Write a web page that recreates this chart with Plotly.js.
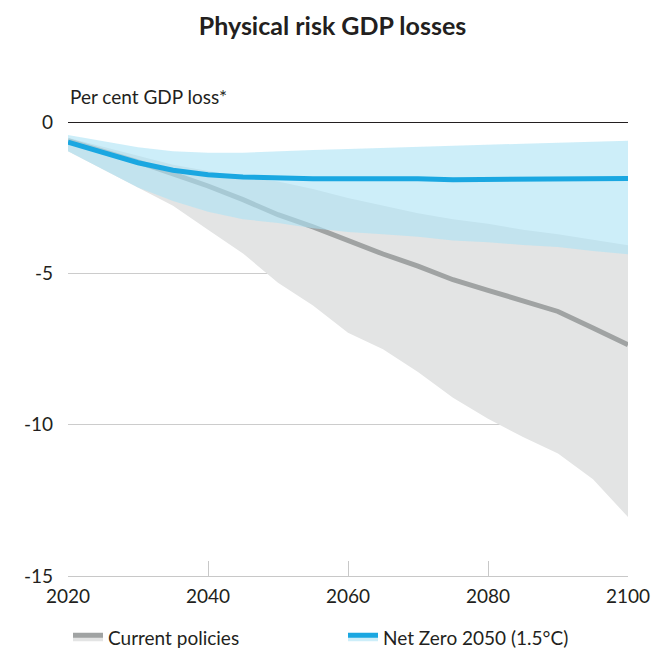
<!DOCTYPE html>
<html>
<head>
<meta charset="utf-8">
<script src="https://cdn.plot.ly/plotly-3.0.1.min.js"></script>
<style>
html,body{margin:0;padding:0;background:#fff;}
#chart{width:652px;height:649px;}
</style>
</head>
<body>
<div id="chart"></div>
<script>
// Data (per cent GDP loss)
const years = [2020,2025,2030,2035,2040,2045,2050,2055,2060,2065,2070,2075,2080,2085,2090,2095,2100];

const currentCentral = [-0.6,-0.95,-1.3,-1.7,-2.1,-2.55,-3.05,-3.45,-3.9,-4.35,-4.75,-5.2,-5.55,-5.9,-6.25,-6.8,-7.35];
const currentUpper   = [-0.5,-0.8,-1.1,-1.4,-1.6,-1.8,-1.95,-2.2,-2.5,-2.75,-3.0,-3.2,-3.35,-3.55,-3.7,-3.88,-4.06];
const currentLower   = [-0.95,-1.55,-2.15,-2.75,-3.55,-4.33,-5.3,-6.05,-6.95,-7.5,-8.25,-9.1,-9.8,-10.4,-10.95,-11.8,-13.05];

const netZeroCentral = [-0.65,-1.0,-1.33,-1.58,-1.73,-1.8,-1.84,-1.86,-1.86,-1.85,-1.86,-1.89,-1.88,-1.86,-1.85,-1.85,-1.85];
const netZeroUpper   = [-0.41,-0.62,-0.82,-0.95,-1.0,-1.0,-0.95,-0.91,-0.88,-0.84,-0.8,-0.76,-0.73,-0.7,-0.67,-0.63,-0.6];
const netZeroLower   = [-0.95,-1.55,-2.15,-2.6,-2.95,-3.2,-3.32,-3.5,-3.62,-3.7,-3.78,-3.9,-3.96,-4.05,-4.12,-4.25,-4.36];

const seriesNames = ['Current policies', 'Net Zero 2050 (1.5°C)'];
const yTicks = [0,-5,-10,-15];
const xTicks = [2020,2040,2060,2080,2100];

const FONT = 'Lato, "Open Sans", sans-serif';
const TXT = '#231f20';
const grayBand = '#e3e4e4';
const grayLine = '#a0a3a3';
const blueBand = 'rgba(172,227,245,0.6)';
const blueLine = '#1aa7e1';

const traces = [
  {x: years, y: currentUpper, mode:'lines', line:{width:0, color:grayBand}, showlegend:false, hoverinfo:'skip'},
  {x: years, y: currentCentral, mode:'lines', name: seriesNames[0], fill:'tonexty', fillcolor:grayBand,
   line:{width:5, color:grayLine}},
  {x: years, y: currentLower, mode:'lines', fill:'tonexty', fillcolor:grayBand, line:{width:0, color:grayBand}, showlegend:false, hoverinfo:'skip'},
  {x: years, y: netZeroUpper, mode:'lines', line:{width:0, color:blueBand}, showlegend:false, hoverinfo:'skip'},
  {x: years, y: netZeroCentral, mode:'lines', name: seriesNames[1], fill:'tonexty', fillcolor:blueBand,
   line:{width:5, color:blueLine}},
  {x: years, y: netZeroLower, mode:'lines', fill:'tonexty', fillcolor:blueBand, line:{width:0, color:blueBand}, showlegend:false, hoverinfo:'skip'}
];

const layout = {
  width:652, height:649,
  margin:{l:68, r:24, t:121, b:73, autoexpand:false},
  paper_bgcolor:'#fff', plot_bgcolor:'#fff',
  font:{family:FONT, color:TXT, size:19},
  title:{text:'<b>Physical risk GDP losses</b>', font:{family:FONT, size:25, color:TXT, weight:900},
         x:0.51, xref:'container', xanchor:'center', y:1-26/649, yref:'container', yanchor:'middle'},
  xaxis:{range:[2020,2100], tickvals:xTicks, ticktext:xTicks.map(String),
         showgrid:false, zeroline:false, showline:true, linecolor:'#c8c8c8', linewidth:1,
         ticks:'inside', ticklen:15, tickcolor:'#c8c8c8', tickwidth:1, ticklabelstandoff:3,
         tickfont:{family:FONT, size:19, color:TXT}, fixedrange:true},
  yaxis:{range:[-15,0.05], tickvals:yTicks, ticktext:yTicks.map(String),
         showgrid:true, gridcolor:'#cccccc', gridwidth:1,
         zeroline:true, zerolinecolor:'#231f20', zerolinewidth:1.5,
         showline:false, ticks:'', ticklabelstandoff:14,
         tickfont:{family:FONT, size:19, color:TXT}, fixedrange:true},
  legend:{orientation:'h', x:0, xanchor:'left', y:-0.093, yanchor:'top',
          font:{family:FONT, size:19, color:TXT}, entrywidth:230, entrywidthmode:'pixels',
          traceorder:'normal', bgcolor:'rgba(0,0,0,0)'},
  annotations:[{text:'Per cent GDP loss*', xref:'paper', yref:'paper', x:0, y:(576-97)/455,
                xanchor:'left', yanchor:'middle', showarrow:false, font:{family:FONT, size:19, color:TXT}}],
  showlegend:true
};

Plotly.newPlot('chart', traces, layout, {displayModeBar:false, staticPlot:true});
</script>
</body>
</html>
